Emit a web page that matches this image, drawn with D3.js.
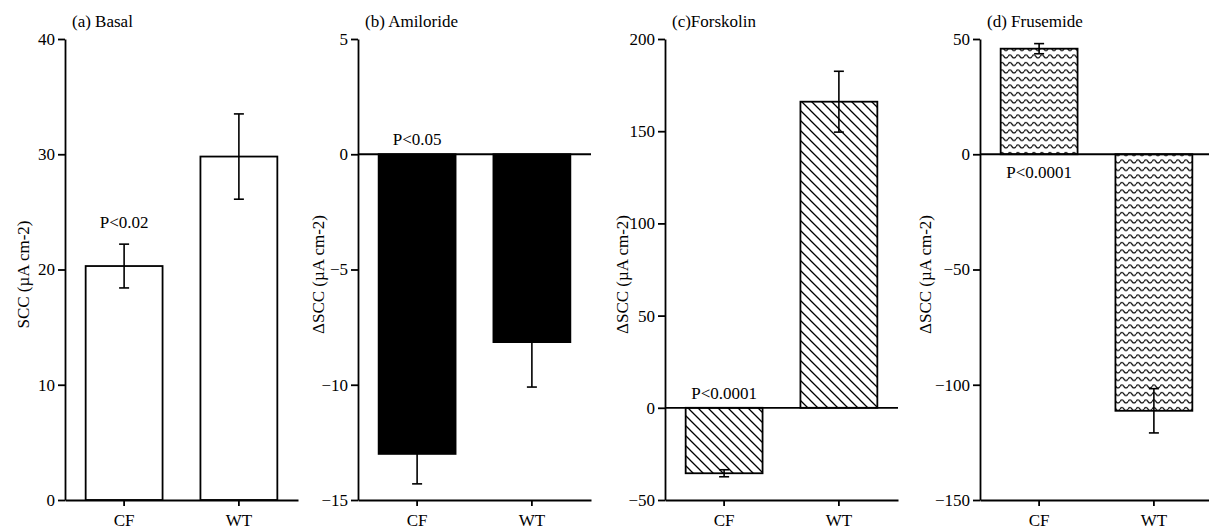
<!DOCTYPE html>
<html>
<head>
<meta charset="utf-8">
<script src="https://cdn.jsdelivr.net/npm/d3@7"></script>
<style>
  body { margin: 0; background: #fff; }
  svg text { font-family: "Liberation Serif", "Times New Roman", serif; fill: #000; }
  .axis path, .axis line { stroke: #000; stroke-width: 1.8; }
  .axis text { font-size: 17px; }
</style>
</head>
<body>
<div id="chart"></div>
<script>
// Chart data
const categories = ["CF", "WT"];
const panelTitles = ["(a) Basal", "(b) Amiloride", "(c)Forskolin", "(d) Frusemide"];
const yLabels = ["SCC (\u00b5A cm-2)", "\u0394SCC (\u00b5A cm-2)", "\u0394SCC (\u00b5A cm-2)", "\u0394SCC (\u00b5A cm-2)"];
const pLabels = ["P<0.02", "P<0.05", "P<0.0001", "P<0.0001"];

const basalMean = [20.3, 29.8];
const basalErr = [1.9, 3.7];
const amilorideMean = [-13.0, -8.15];
const amilorideErr = [1.3, 1.95];
const forskolinMean = [-35.5, 166];
const forskolinErr = [1.9, 16.5];
const frusemideMean = [45.8, -111.3];
const frusemideErr = [2.2, 9.6];

const yDomains = [[0, 40], [-15, 5], [-50, 200], [-150, 50]];
const yTicks = [
    [0, 10, 20, 30, 40],
    [-15, -10, -5, 0, 5],
    [-50, 0, 50, 100, 150, 200],
    [-150, -100, -50, 0, 50]
];

const means = [basalMean, amilorideMean, forskolinMean, frusemideMean];
const errs = [basalErr, amilorideErr, forskolinErr, frusemideErr];

// Layout
const W = 1209, H = 532;
const panelLeft = [65, 358, 665, 980];
const panelWidth = 233;
const yTop = 39, yBottom = 500;
const fills = ["#fff", "#000", "url(#hatch)", "url(#wave)"];
const yLabelX = [23, 318, 622, 925];

const svg = d3.select("#chart").append("svg")
    .attr("width", W)
    .attr("height", H);

// patterns for (c) and (d)
const defs = svg.append("defs");
const hatch = defs.append("pattern")
    .attr("id", "hatch")
    .attr("patternUnits", "userSpaceOnUse")
    .attr("width", 10)
    .attr("height", 10);
hatch.append("rect").attr("width", 10).attr("height", 10).attr("fill", "#fff");
hatch.append("path")
    .attr("d", "M-2,-2 L12,12 M-2,8 L2,12 M8,-2 L12,2")
    .attr("stroke", "#000")
    .attr("stroke-width", 1.3);

const wave = defs.append("pattern")
    .attr("id", "wave")
    .attr("patternUnits", "userSpaceOnUse")
    .attr("width", 8)
    .attr("height", 7.5);
wave.append("rect").attr("width", 8).attr("height", 7.5).attr("fill", "#fff");
wave.append("path")
    .attr("d", "M0,4 Q2,1 4,4 T8,4")
    .attr("fill", "none")
    .attr("stroke", "#000")
    .attr("stroke-width", 1.3);

means.forEach((vals, p) => {
    const g = svg.append("g");
    const x0 = panelLeft[p];

    const x = d3.scaleBand()
        .domain(categories)
        .range([x0, x0 + panelWidth])
        .paddingInner(0.33)
        .paddingOuter(0.18);

    const y = d3.scaleLinear()
        .domain(yDomains[p])
        .range([yBottom, yTop]);

    const data = categories.map((c, i) => ({ cat: c, v: vals[i], e: errs[p][i] }));

    // bars
    g.selectAll(".bar").data(data).enter().append("rect")
        .attr("x", d => x(d.cat))
        .attr("width", x.bandwidth())
        .attr("y", d => y(Math.max(0, d.v)))
        .attr("height", d => Math.abs(y(d.v) - y(0)))
        .attr("fill", fills[p])
        .attr("stroke", "#000")
        .attr("stroke-width", 1.8);

    // error bars (mean +/- err, capped both ends)
    const cap = 5;
    const eb = g.selectAll(".err").data(data).enter().append("g")
        .attr("stroke", "#000")
        .attr("stroke-width", 1.6);
    eb.append("line")
        .attr("x1", d => x(d.cat) + x.bandwidth() / 2)
        .attr("x2", d => x(d.cat) + x.bandwidth() / 2)
        .attr("y1", d => y(d.v - d.e))
        .attr("y2", d => y(d.v + d.e));
    [-1, 1].forEach(s => {
        eb.append("line")
            .attr("x1", d => x(d.cat) + x.bandwidth() / 2 - cap)
            .attr("x2", d => x(d.cat) + x.bandwidth() / 2 + cap)
            .attr("y1", d => y(d.v + s * d.e))
            .attr("y2", d => y(d.v + s * d.e));
    });

    // zero line
    if (yDomains[p][0] < 0) {
        g.append("line")
            .attr("x1", x0).attr("x2", x0 + panelWidth)
            .attr("y1", y(0)).attr("y2", y(0))
            .attr("stroke", "#000")
            .attr("stroke-width", 1.8);
    }

    // axes
    g.append("g")
        .attr("class", "axis")
        .attr("transform", `translate(${x0},0)`)
        .call(d3.axisLeft(y).tickValues(yTicks[p]).tickSize(7).tickSizeOuter(0).tickPadding(3));

    g.append("g")
        .attr("class", "axis")
        .attr("transform", `translate(0,${yBottom})`)
        .call(d3.axisBottom(x).tickSize(6).tickSizeOuter(0).tickPadding(8));

    // title
    g.append("text")
        .attr("x", x0 + 7)
        .attr("y", 27)
        .attr("font-size", 17)
        .text(panelTitles[p]);

    // y label
    g.append("text")
        .attr("transform", `translate(${yLabelX[p]},${(yTop + yBottom) / 2 + 5}) rotate(-90)`)
        .attr("text-anchor", "middle")
        .attr("dy", "0.35em")
        .attr("font-size", 17)
        .text(yLabels[p]);

    // significance label
    const cf = data[0];
    const cx = x(cf.cat) + x.bandwidth() / 2;
    let py;
    if (p === 0) py = y(cf.v + cf.e) - 16;
    else if (p === 3) py = y(0) + 24;
    else py = y(0) - 9;
    g.append("text")
        .attr("x", cx)
        .attr("y", py)
        .attr("text-anchor", "middle")
        .attr("font-size", 17)
        .text(pLabels[p]);
});
</script>
</body>
</html>
